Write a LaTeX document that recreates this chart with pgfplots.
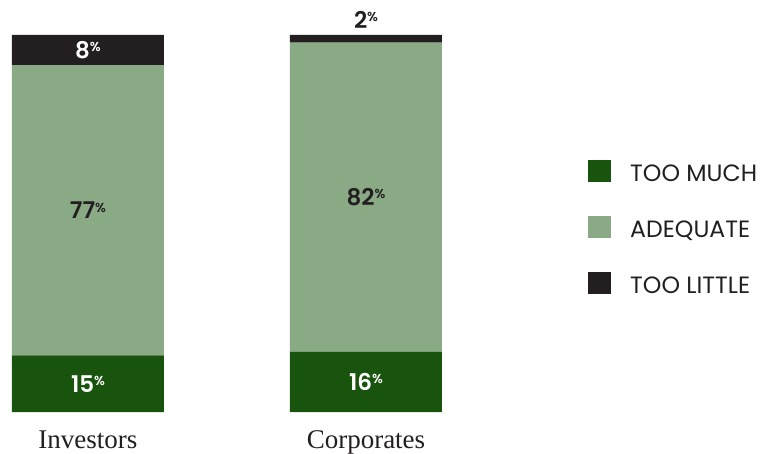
\documentclass[border=0pt]{standalone}
\usepackage{fontspec}
\setmainfont{Poppins}
\IfFontExistsTF{Poppins SemiBold}{\newfontfamily\popsemi{Poppins SemiBold}}{\newfontfamily\popsemi{Poppins Bold}}
\newfontfamily\serif{Liberation Serif}
\usepackage{pgfplots}
\pgfplotsset{compat=1.18}

\definecolor{toomuch}{HTML}{19540E}
\definecolor{adequate}{HTML}{8AAA85}
\definecolor{toolittle}{HTML}{231F20}

% value label: bold number with a small raised percent sign
\newcommand{\pct}[1]{\fontsize{23}{23}\popsemi #1\raisebox{6.5pt}{\fontsize{13}{13}\selectfont\mdseries\%}}

\pgfplotsset{
  base/.style={
    width=760pt, height=377pt, scale only axis,
    xmin=-0.3165, xmax=2.4173, ymin=0, ymax=100,
    at={(0pt,41pt)}, anchor=south west,
  },
}

\begin{document}
\begin{tikzpicture}
\useasboundingbox (0,0) rectangle (760pt,453pt);

\begin{axis}[
    base,
    ybar stacked,
    bar width=152pt,
    axis line style={draw=none},
    major tick style={draw=none},
    ytick=\empty,
    xtick={0,1},
    xticklabels={Investors,Corporates},
    xticklabel style={font=\serif\fontsize{27}{27}\selectfont, text=toolittle, anchor=base, yshift=-36pt},
    legend style={
        at={(0.7737,0.6698)}, anchor=north west,
        draw=none, fill=none, inner sep=0pt, row sep=34pt,
        nodes={inner sep=0pt, text height=22pt, text depth=0pt,
               font=\fontsize{23.6}{23.6}\selectfont, text=toolittle},
    },
    legend cell align=left,
    legend image code/.code={
        \fill[#1] (0pt,-11pt) rectangle (23pt,11pt);
        \path[draw=none, fill=none] (0pt,0pt) -- (42pt,0pt);
    },
]
\addplot[fill=toomuch, draw=none] coordinates {(0,15) (1,16)};
\addlegendentry{TOO MUCH}
\addplot[fill=adequate, draw=none] coordinates {(0,77) (1,82)};
\addlegendentry{ADEQUATE}
\addplot[fill=toolittle, draw=none] coordinates {(0,8) (1,2)};
\addlegendentry{TOO LITTLE}
\end{axis}

% labels in the middle of each segment (2% sits above its thin segment)
\begin{axis}[
    base, hide axis, clip=false,
    point meta=explicit symbolic,
    nodes near coords={\pct{\pgfplotspointmeta}},
    every node near coord/.append style={anchor=center},
]
\addplot[draw=none, mark=none, every node near coord/.append style={text=white}]
    coordinates {(0,7.5) [15] (1,8) [16] (0,96) [8]};
\addplot[draw=none, mark=none, every node near coord/.append style={text=toolittle}]
    coordinates {(0,53.5) [77] (1,57) [82] (1,104) [2]};
\end{axis}
\end{tikzpicture}
\end{document}
